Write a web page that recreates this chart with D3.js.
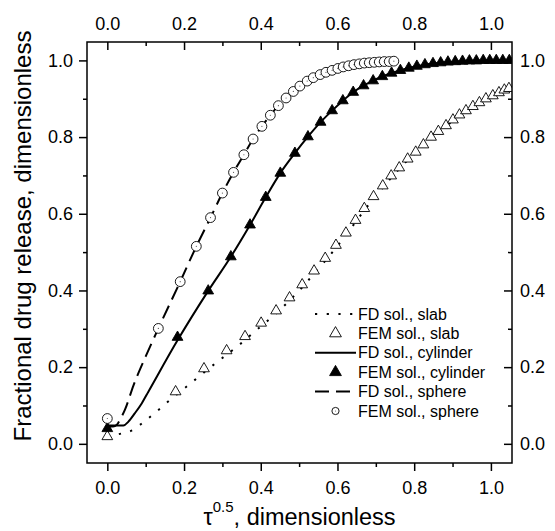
<!DOCTYPE html>
<html>
<head>
<meta charset="utf-8">
<script src="https://cdn.jsdelivr.net/npm/d3@7"></script>
<style>
  body { margin: 0; background: #fff; }
  text { font-family: "Liberation Sans", Arial, sans-serif; fill: #000; }
</style>
</head>
<body>
<svg id="chart" width="555" height="531"></svg>
<script>
// tick values (same on all four sides)
const majorTicks = [0, 0.2, 0.4, 0.6, 0.8, 1.0];
const minorTicks = [0.1, 0.3, 0.5, 0.7, 0.9];

// FD solution, slab (dotted)
const slabFdX = [0, 0.033, 0.064, 0.096, 0.127, 0.157, 0.22, 0.278, 0.34, 0.401, 0.44, 0.475, 0.508, 0.539, 0.568, 0.596, 0.622, 0.647, 0.67, 0.694, 0.718, 0.74, 0.761, 0.783, 0.804, 0.824, 0.844, 0.863, 0.883, 0.901, 0.918, 0.935, 0.953, 0.97, 0.987, 1.005, 1.021, 1.035, 1.055];
const slabFdY = [0.02, 0.026, 0.035, 0.058, 0.083, 0.109, 0.16, 0.207, 0.255, 0.307, 0.34, 0.374, 0.408, 0.444, 0.477, 0.511, 0.545, 0.578, 0.609, 0.64, 0.668, 0.694, 0.717, 0.74, 0.759, 0.778, 0.797, 0.813, 0.828, 0.843, 0.856, 0.868, 0.879, 0.889, 0.899, 0.907, 0.915, 0.922, 0.929];

// FEM solution, slab (open triangles)
const slabFemX = [0, 0.178, 0.252, 0.311, 0.359, 0.401, 0.44, 0.475, 0.508, 0.539, 0.568, 0.596, 0.622, 0.647, 0.67, 0.694, 0.718, 0.74, 0.761, 0.783, 0.804, 0.824, 0.844, 0.863, 0.883, 0.901, 0.918, 0.935, 0.953, 0.97, 0.987, 1.005, 1.021, 1.035, 1.047];
const slabFemY = [0.019, 0.136, 0.196, 0.243, 0.28, 0.315, 0.347, 0.381, 0.415, 0.451, 0.484, 0.518, 0.55, 0.583, 0.614, 0.645, 0.673, 0.699, 0.72, 0.743, 0.761, 0.78, 0.8, 0.815, 0.83, 0.845, 0.858, 0.869, 0.88, 0.89, 0.9, 0.908, 0.916, 0.923, 0.927];

// FD solution, cylinder (solid)
const cylFdX = [0, 0.042, 0.055, 0.072, 0.09, 0.107, 0.183, 0.263, 0.322, 0.372, 0.413, 0.451, 0.489, 0.523, 0.556, 0.586, 0.614, 0.641, 0.668, 0.693, 0.717, 0.741, 0.764, 0.786, 0.807, 0.828, 0.849, 0.869, 0.888, 0.907, 0.926, 0.944, 0.962, 0.98, 0.997, 1.014, 1.031, 1.055];
const cylFdY = [0.048, 0.048, 0.058, 0.08, 0.106, 0.136, 0.27, 0.399, 0.488, 0.571, 0.643, 0.706, 0.758, 0.801, 0.839, 0.869, 0.895, 0.917, 0.934, 0.947, 0.958, 0.967, 0.974, 0.98, 0.985, 0.989, 0.992, 0.994, 0.996, 0.997, 0.998, 0.999, 0.999, 1.0, 1.0, 1.0, 1.0, 1.0];

// FEM solution, cylinder (filled triangles)
const cylFemX = [0, 0.183, 0.263, 0.322, 0.372, 0.413, 0.451, 0.489, 0.523, 0.556, 0.586, 0.614, 0.641, 0.668, 0.693, 0.717, 0.741, 0.764, 0.786, 0.807, 0.828, 0.849, 0.869, 0.888, 0.907, 0.926, 0.944, 0.962, 0.98, 0.997, 1.014, 1.031, 1.048];
const cylFemY = [0.04, 0.278, 0.399, 0.488, 0.571, 0.643, 0.706, 0.758, 0.801, 0.839, 0.869, 0.895, 0.917, 0.934, 0.947, 0.958, 0.967, 0.974, 0.98, 0.985, 0.989, 0.992, 0.994, 0.996, 0.997, 0.998, 0.999, 0.999, 1.0, 1.0, 1.0, 1.0, 1.0];

// FD solution, sphere (dashed)
const sphFdX = [0, 0.015, 0.025, 0.033, 0.046, 0.068, 0.1, 0.133, 0.19, 0.232, 0.269, 0.3, 0.329, 0.356, 0.38, 0.403, 0.425, 0.446, 0.466, 0.485, 0.502, 0.521, 0.537, 0.555, 0.57, 0.586, 0.601, 0.615, 0.629, 0.643, 0.67, 0.696, 0.722, 0.747];
const sphFdY = [0.045, 0.045, 0.05, 0.063, 0.089, 0.152, 0.228, 0.301, 0.423, 0.515, 0.59, 0.654, 0.708, 0.754, 0.795, 0.828, 0.857, 0.882, 0.902, 0.919, 0.933, 0.946, 0.955, 0.963, 0.969, 0.974, 0.979, 0.983, 0.986, 0.989, 0.993, 0.995, 0.997, 0.998];

// FEM solution, sphere (open circles)
const sphFemX = [0, 0.133, 0.19, 0.232, 0.269, 0.3, 0.329, 0.356, 0.38, 0.403, 0.425, 0.446, 0.466, 0.485, 0.502, 0.521, 0.537, 0.555, 0.57, 0.586, 0.601, 0.615, 0.629, 0.643, 0.657, 0.67, 0.683, 0.696, 0.709, 0.722, 0.735, 0.747];
const sphFemY = [0.066, 0.301, 0.423, 0.515, 0.59, 0.654, 0.708, 0.754, 0.795, 0.828, 0.857, 0.882, 0.902, 0.919, 0.933, 0.946, 0.955, 0.963, 0.969, 0.974, 0.979, 0.983, 0.986, 0.989, 0.991, 0.993, 0.994, 0.995, 0.996, 0.997, 0.997, 0.998];

const legendLabels = ["FD sol., slab", "FEM sol., slab", "FD sol., cylinder", "FEM sol., cylinder", "FD sol., sphere", "FEM sol., sphere"];

const svg = d3.select("#chart");
const width = 555, height = 531;
const margin = { top: 42, right: 43, bottom: 68, left: 87 };
const fmt = d3.format(".1f");

const x = d3.scaleLinear().domain([-0.053, 1.055]).range([margin.left, width - margin.right]);
const y = d3.scaleLinear().domain([-0.05, 1.048]).range([height - margin.bottom, margin.top]);

const zip = (xs, ys) => xs.map((v, i) => [v, ys[i]]);

svg.append("rect").attr("width", width).attr("height", height).attr("fill", "#fff");

svg.append("defs").append("clipPath").attr("id", "plotClip")
  .append("rect")
  .attr("x", x.range()[0]).attr("y", y.range()[1])
  .attr("width", x.range()[1] - x.range()[0])
  .attr("height", y.range()[0] - y.range()[1]);

const plot = svg.append("g").attr("clip-path", "url(#plotClip)");

const line = d3.line().x(d => x(d[0])).y(d => y(d[1])).curve(d3.curveMonotoneX);

const lineStyles = [
  { data: zip(slabFdX, slabFdY), dash: "2.2 9.5" },
  { data: zip(cylFdX, cylFdY), dash: null },
  { data: zip(sphFdX, sphFdY), dash: "14 7" }
];

lineStyles.forEach(s => {
  plot.append("path")
    .datum(s.data)
    .attr("d", line)
    .attr("fill", "none")
    .attr("stroke", "#000")
    .attr("stroke-width", 2)
    .attr("stroke-dasharray", s.dash);
});

const triSym = d3.symbol(d3.symbolTriangle, 50);

// slab, open triangles
plot.append("g").selectAll("path")
  .data(zip(slabFemX, slabFemY))
  .join("path")
  .attr("transform", d => `translate(${x(d[0])},${y(d[1])})`)
  .attr("d", triSym)
  .attr("fill", "#fff")
  .attr("stroke", "#000")
  .attr("stroke-width", 0.9);

// cylinder, filled triangles
plot.append("g").selectAll("path")
  .data(zip(cylFemX, cylFemY))
  .join("path")
  .attr("transform", d => `translate(${x(d[0])},${y(d[1])})`)
  .attr("d", triSym)
  .attr("fill", "#000")
  .attr("stroke", "#000")
  .attr("stroke-width", 0.9);

// sphere, open circles with centre dot
const circ = plot.append("g").selectAll("g")
  .data(zip(sphFemX, sphFemY))
  .join("g")
  .attr("transform", d => `translate(${x(d[0])},${y(d[1])})`);
circ.append("circle").attr("r", 4.9).attr("fill", "#fff").attr("stroke", "#000").attr("stroke-width", 0.9);
circ.append("circle").attr("r", 0.6).attr("fill", "#555");

// axes
function styleAxis(g) {
  g.select(".domain").remove();
  g.selectAll("line").attr("stroke", "#000").attr("stroke-width", 1.5);
  g.selectAll("text").style("font-size", "18px").attr("fill", "#000");
}

const yBottom = y.range()[0], yTop = y.range()[1];
const xLeft = x.range()[0], xRight = x.range()[1];

svg.append("g").attr("transform", `translate(0,${yBottom})`)
  .call(d3.axisBottom(x).tickValues(majorTicks).tickFormat(fmt).tickSizeInner(8).tickSizeOuter(0).tickPadding(10))
  .call(styleAxis);
svg.append("g").attr("transform", `translate(0,${yBottom})`)
  .call(d3.axisBottom(x).tickValues(minorTicks).tickFormat("").tickSizeInner(4).tickSizeOuter(0))
  .call(styleAxis);

svg.append("g").attr("transform", `translate(0,${yTop})`)
  .call(d3.axisTop(x).tickValues(majorTicks).tickFormat(fmt).tickSizeInner(-8).tickSizeOuter(0).tickPadding(12))
  .call(styleAxis);
svg.append("g").attr("transform", `translate(0,${yTop})`)
  .call(d3.axisTop(x).tickValues(minorTicks).tickFormat("").tickSizeInner(-4).tickSizeOuter(0))
  .call(styleAxis);

svg.append("g").attr("transform", `translate(${xLeft},0)`)
  .call(d3.axisLeft(y).tickValues(majorTicks).tickFormat(fmt).tickSizeInner(8).tickSizeOuter(0).tickPadding(6))
  .call(styleAxis);
svg.append("g").attr("transform", `translate(${xLeft},0)`)
  .call(d3.axisLeft(y).tickValues(minorTicks).tickFormat("").tickSizeInner(4).tickSizeOuter(0))
  .call(styleAxis);

svg.append("g").attr("transform", `translate(${xRight},0)`)
  .call(d3.axisRight(y).tickValues(majorTicks).tickFormat(fmt).tickSizeInner(-8).tickSizeOuter(0).tickPadding(8))
  .call(styleAxis);
svg.append("g").attr("transform", `translate(${xRight},0)`)
  .call(d3.axisRight(y).tickValues(minorTicks).tickFormat("").tickSizeInner(-4).tickSizeOuter(0))
  .call(styleAxis);

// frame
svg.append("rect")
  .attr("x", xLeft).attr("y", yTop)
  .attr("width", xRight - xLeft).attr("height", yBottom - yTop)
  .attr("fill", "none").attr("stroke", "#000").attr("stroke-width", 1.5);

// axis titles
svg.append("text")
  .attr("transform", `translate(31,236) rotate(-90)`)
  .attr("text-anchor", "middle")
  .style("font-size", "24px")
  .text("Fractional drug release, dimensionless");

const xt = svg.append("text")
  .attr("x", (xLeft + xRight) / 2)
  .attr("y", 525)
  .attr("text-anchor", "middle")
  .style("font-size", "23.5px");
xt.append("tspan").text("τ");
xt.append("tspan").attr("dy", -13).style("font-size", "15px").text("0.5");
xt.append("tspan").attr("dy", 13).text(", dimensionless");

// legend
const legX = 315, legLen = 41, legY0 = 314, legStep = 19.4;
const legend = svg.append("g").selectAll("g")
  .data(legendLabels)
  .join("g")
  .attr("transform", (d, i) => `translate(0,${legY0 + i * legStep})`);

legend.append("text")
  .attr("x", legX + legLen + 2)
  .attr("y", 5.5)
  .style("font-size", "16px")
  .text(d => d);

legend.each(function(d, i) {
  const g = d3.select(this);
  const cx = legX + legLen / 2;
  if (i % 2 === 0) {
    g.append("line")
      .attr("x1", legX).attr("x2", legX + legLen)
      .attr("stroke", "#000").attr("stroke-width", 2)
      .attr("stroke-dasharray", lineStyles[i / 2].dash);
  } else if (i === 1 || i === 3) {
    g.append("path")
      .attr("transform", `translate(${cx},0)`)
      .attr("d", d3.symbol(d3.symbolTriangle, 60))
      .attr("fill", i === 1 ? "#fff" : "#000")
      .attr("stroke", "#000").attr("stroke-width", 0.9);
  } else {
    g.append("circle").attr("cx", cx).attr("r", 3.6)
      .attr("fill", "#fff").attr("stroke", "#000").attr("stroke-width", 0.9);
    g.append("circle").attr("cx", cx).attr("r", 0.5).attr("fill", "#555");
  }
});
</script>
</body>
</html>
